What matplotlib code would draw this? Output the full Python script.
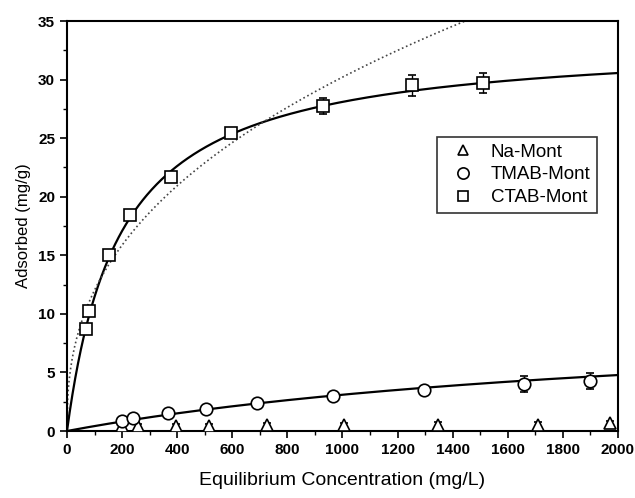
import numpy as np
import matplotlib
matplotlib.use("Agg")
import matplotlib.pyplot as plt
from matplotlib.ticker import MultipleLocator

plt.rcParams['font.family'] = ['Liberation Sans', 'DejaVu Sans']

# CTAB-Mont
ctab_x = [69, 80, 153, 229, 377, 595, 930, 1252, 1510]
ctab_y = [8.7, 10.25, 15.0, 18.4, 21.7, 25.4, 27.75, 29.5, 29.7]
ctab_err = [0.3, 0.3, 0.3, 0.3, 0.35, 0.3, 0.7, 0.9, 0.85]

# TMAB-Mont
tmab_x = [199, 238, 368, 503, 688, 964, 1296, 1660, 1899]
tmab_y = [0.85, 1.1, 1.5, 1.85, 2.4, 3.0, 3.5, 4.0, 4.27]
tmab_err = [0.2, 0.2, 0.2, 0.2, 0.2, 0.25, 0.3, 0.68, 0.65]

# Na-Mont
na_x = [200, 258, 396, 515, 726, 1005, 1347, 1710, 1971]
na_y = [0.4, 0.45, 0.45, 0.45, 0.5, 0.5, 0.55, 0.55, 0.65]
na_err = [0.15, 0.15, 0.15, 0.15, 0.15, 0.15, 0.2, 0.2, 0.2]

# fitted isotherm parameters
ctab_qm, ctab_k = 33.5, 0.0052      # Langmuir
ctab_kf, ctab_n = 1.906, 0.40       # Freundlich (dotted)
tmab_qm, tmab_k = 10.44, 0.000422   # Langmuir

fig = plt.figure(figsize=(6.35, 4.98), dpi=100)
ax = fig.add_axes([0.1055, 0.1345, 0.8677, 0.8233])

c = np.linspace(0, 2000, 800)
ax.plot(c, ctab_qm * ctab_k * c / (1 + ctab_k * c), '-k', lw=1.6, zorder=2)
ax.plot(c, ctab_kf * c ** ctab_n, ':', color='#444444', lw=1.2, zorder=2)
ax.plot(c, tmab_qm * tmab_k * c / (1 + tmab_k * c), '-k', lw=1.6, zorder=2)

kw = dict(ls='none', mfc='white', mec='black', mew=1.2, ecolor='black',
          elinewidth=1.0, capsize=3, capthick=1.0, zorder=3)
ax.errorbar(na_x, na_y, yerr=na_err, marker='^', ms=8, label='Na-Mont', **kw)
ax.errorbar(tmab_x, tmab_y, yerr=tmab_err, marker='o', ms=9, label='TMAB-Mont', **kw)
ax.errorbar(ctab_x, ctab_y, yerr=ctab_err, marker='s', ms=8, label='CTAB-Mont', **kw)

ax.set_xlim(0, 2000)
ax.set_ylim(0, 35)
ax.xaxis.set_major_locator(MultipleLocator(200))
ax.xaxis.set_minor_locator(MultipleLocator(100))
ax.yaxis.set_major_locator(MultipleLocator(5))
ax.yaxis.set_minor_locator(MultipleLocator(2.5))
ax.tick_params(which='major', direction='out', length=5, width=1.2, labelsize=11)
ax.tick_params(which='minor', direction='out', length=3, width=1.0)
for lab in ax.get_xticklabels() + ax.get_yticklabels():
    lab.set_fontweight('bold')
for s in ax.spines.values():
    s.set_linewidth(1.5)

ax.set_xlabel('Equilibrium Concentration (mg/L)', fontsize=14, labelpad=11)
ax.set_ylabel('Adsorbed (mg/g)', fontsize=12, labelpad=5)

h, l = ax.get_legend_handles_labels()
h = [x[0] for x in h]
leg = ax.legend(h, l, loc='upper left', bbox_to_anchor=(0.655, 0.74),
                fontsize=13.5, frameon=True, fancybox=False, edgecolor='black',
                handletextpad=0.5, borderpad=0.35, labelspacing=0.3,
                markerscale=0.9)
leg.get_frame().set_linewidth(1.2)

fig.savefig('out.png', dpi=100)
